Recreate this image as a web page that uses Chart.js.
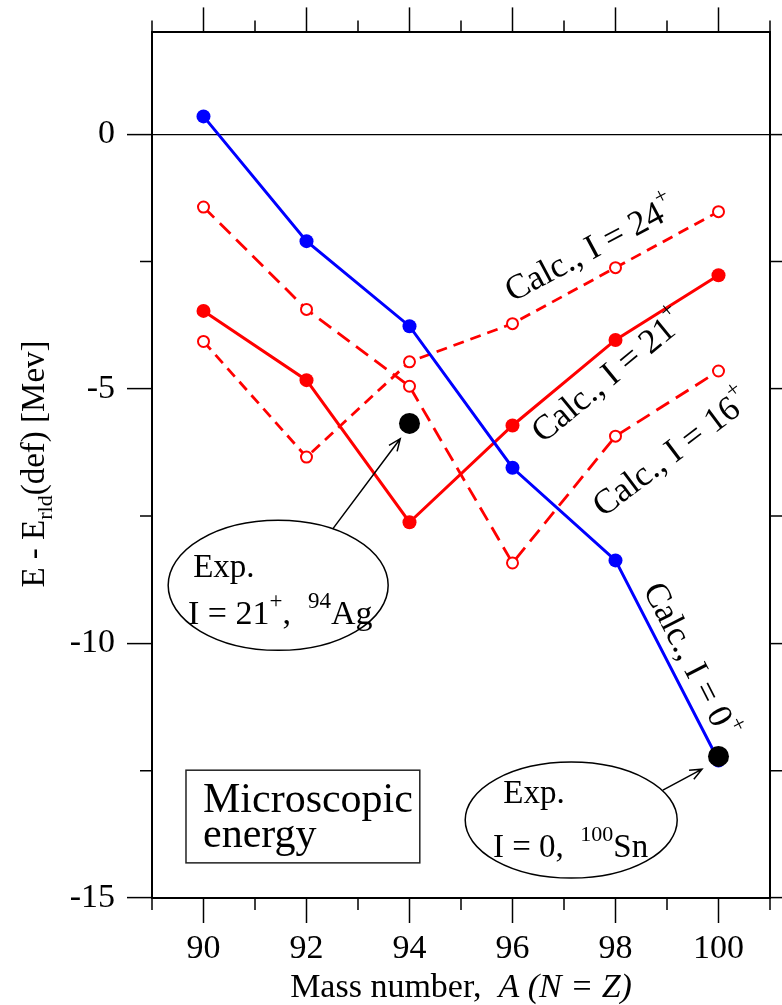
<!DOCTYPE html>
<html>
<head>
<meta charset="utf-8">
<script src="https://cdn.jsdelivr.net/npm/chart.js@4/dist/chart.umd.min.js"></script>
<style>
  html, body { margin: 0; padding: 0; background: #fff; }
  canvas { display: block; }
</style>
</head>
<body>
<canvas id="chart" width="782" height="1005"></canvas>
<script>
// values (MeV)
const massNumbers = [90, 92, 94, 96, 98, 100]
const calcI0 = [0.35, -2.1, -3.77, -6.55, -8.37, -12.3]
const calcI21 = [-3.47, -4.83, -7.62, -5.72, -4.04, -2.77]
const calcI16 = [-1.43, -3.44, -4.95, -8.42, -5.93, -4.65]
const calcI24 = [-4.07, -6.34, -4.47, -3.72, -2.62, -1.52]
const expMass = [94, 100]
const expEnergy = [-5.68, -12.22]

const xMajorTicks = [90, 92, 94, 96, 98, 100]
const xMinorTicks = [89, 91, 93, 95, 97, 99, 101]
const yMajorTicks = [0, -5, -10, -15]
const yMinorTicks = [-2.5, -7.5, -12.5]

const SERIF = '"Liberation Serif", "Times New Roman", serif'
const pts = (ys) => massNumbers.map((a, i) => ({ x: a, y: ys[i] }))

const fontOf = (r) => `${r.italic ? 'italic ' : ''}${r.size}px ${SERIF}`

// draws a run of text pieces (for super/subscripts) at a baseline origin
function drawRuns(ctx, runs, x, y, angle, centered) {
    ctx.save()
    ctx.translate(x, y)
    ctx.rotate(angle * Math.PI / 180)
    ctx.fillStyle = '#000'
    ctx.textBaseline = 'alphabetic'
    ctx.textAlign = 'left'
    const widths = runs.map(r => { ctx.font = fontOf(r); return ctx.measureText(r.t).width })
    let cx = centered ? -widths.reduce((a, b) => a + b, 0) / 2 : 0
    runs.forEach((r, i) => {
        ctx.font = fontOf(r)
        ctx.fillText(r.t, cx, r.dy || 0)
        cx += widths[i]
    })
    ctx.restore()
}

function arrow(ctx, x1, y1, x2, y2) {
    const a = Math.atan2(y2 - y1, x2 - x1)
    const h = 13
    ctx.save()
    ctx.strokeStyle = '#000'
    ctx.lineWidth = 1.5
    ctx.beginPath()
    ctx.moveTo(x1, y1)
    ctx.lineTo(x2, y2)
    ctx.moveTo(x2 - h * Math.cos(a - 0.4), y2 - h * Math.sin(a - 0.4))
    ctx.lineTo(x2, y2)
    ctx.lineTo(x2 - h * Math.cos(a + 0.4), y2 - h * Math.sin(a + 0.4))
    ctx.stroke()
    ctx.restore()
}

const calcLabel = (n) => [{ t: 'Calc., I = ' + n, size: 35 }, { t: '+', size: 23, dy: -17 }]

const annotations = {
    id: 'annotations',
    afterDraw(chart) {
        const { ctx, chartArea } = chart
        const sx = chart.scales.x, sy = chart.scales.y
        const P = (a, e) => [sx.getPixelForValue(a), sy.getPixelForValue(e)]

        // minor ticks on all four sides
        ctx.save()
        ctx.strokeStyle = '#000'
        ctx.lineWidth = 1.5
        ctx.beginPath()
        xMinorTicks.forEach(v => {
            const px = sx.getPixelForValue(v)
            ctx.moveTo(px, chartArea.bottom); ctx.lineTo(px, chartArea.bottom + 12)
            ctx.moveTo(px, chartArea.top); ctx.lineTo(px, chartArea.top - 12)
        })
        yMinorTicks.forEach(v => {
            const py = sy.getPixelForValue(v)
            ctx.moveTo(chartArea.left - 12, py); ctx.lineTo(chartArea.left, py)
            ctx.moveTo(chartArea.right, py); ctx.lineTo(chartArea.right + 12, py)
        })
        ctx.stroke()
        ctx.restore()

        // curve labels
        let p = P(96.0, -3.3)
        drawRuns(ctx, calcLabel('24'), p[0], p[1], -28)
        p = P(96.59, -6.08)
        drawRuns(ctx, calcLabel('21'), p[0], p[1], -39.5)
        p = P(97.76, -7.53)
        drawRuns(ctx, calcLabel('16'), p[0], p[1], -37)
        p = P(98.53, -8.94)
        drawRuns(ctx, calcLabel('0'), p[0], p[1], 63)

        // experiment bubbles
        ctx.save()
        ctx.strokeStyle = '#000'
        ctx.lineWidth = 1.5
        p = P(91.45, -8.86)
        ctx.beginPath(); ctx.ellipse(p[0], p[1], 110, 65, 0, 0, Math.PI * 2); ctx.stroke()
        p = P(97.14, -13.47)
        ctx.beginPath(); ctx.ellipse(p[0], p[1], 106, 58, 0, 0, Math.PI * 2); ctx.stroke()
        ctx.restore()

        p = P(89.80, -8.69)
        drawRuns(ctx, [{ t: 'Exp.', size: 33 }], p[0], p[1], 0)
        p = P(89.70, -9.61)
        drawRuns(ctx, [
            { t: 'I = 21', size: 34 }, { t: '+', size: 23, dy: -16 },
            { t: ',  ', size: 34 }, { t: '94', size: 23, dy: -16 }, { t: 'Ag', size: 34 }
        ], p[0], p[1], 0)
        let a = P(92.51, -7.75), b = P(93.82, -5.98)
        arrow(ctx, a[0], a[1], b[0], b[1])

        p = P(95.82, -13.14)
        drawRuns(ctx, [{ t: 'Exp.', size: 33 }], p[0], p[1], 0)
        p = P(95.62, -14.20)
        drawRuns(ctx, [
            { t: 'I = 0,  ', size: 33 }, { t: '100', size: 22, dy: -16 }, { t: 'Sn', size: 33 }
        ], p[0], p[1], 0)
        a = P(98.92, -12.88); b = P(99.68, -12.47)
        arrow(ctx, a[0], a[1], b[0], b[1])

        // "Microscopic energy" box
        a = P(89.66, -12.49); b = P(94.20, -14.31)
        ctx.save()
        ctx.strokeStyle = '#222'
        ctx.lineWidth = 1.5
        ctx.strokeRect(a[0], a[1], b[0] - a[0], b[1] - a[1])
        ctx.restore()
        p = P(89.99, -13.31)
        drawRuns(ctx, [{ t: 'Microscopic', size: 42 }], p[0], p[1], 0)
        p = P(89.99, -14.0)
        drawRuns(ctx, [{ t: 'energy', size: 42 }], p[0], p[1], 0)

        // axis titles
        drawRuns(ctx, [
            { t: 'Mass number,  ', size: 34 }, { t: 'A (N = Z)', size: 34, italic: true }
        ], (chartArea.left + chartArea.right) / 2, 997, 0, true)
        drawRuns(ctx, [
            { t: 'E - E', size: 33 }, { t: 'rld', size: 22, dy: 8 }, { t: '(def) [Mev]', size: 33 }
        ], 44, 464, -90, true)
    }
}

const tickSet = (vals) => (scale) => { scale.ticks = vals.map(v => ({ value: v })) }
const majorColor = (vals) => (c) => (c.tick && vals.includes(c.tick.value)) ? '#000' : 'rgba(0,0,0,0)'

const xAxisBase = {
    type: 'linear', min: 89, max: 101,
    border: { display: true, color: '#000', width: 2 },
    grid: { drawOnChartArea: false, drawTicks: true, tickLength: 25, tickWidth: 1.5, tickColor: majorColor(xMajorTicks) }
}
const yAxisBase = {
    type: 'linear', min: -15, max: 2,
    border: { display: true, color: '#000', width: 2 },
    grid: {
        drawOnChartArea: true, drawTicks: true, tickLength: 25, tickWidth: 1.5,
        tickColor: majorColor(yMajorTicks),
        color: (c) => (c.tick && c.tick.value === 0) ? '#000' : 'rgba(0,0,0,0)',
        lineWidth: 1.2
    }
}

new Chart(document.getElementById('chart'), {
    type: 'scatter',
    data: {
        datasets: [
            {
                label: 'Exp.',
                data: expMass.map((a, i) => ({ x: a, y: expEnergy[i] })),
                showLine: false,
                pointRadius: 10.5,
                pointBackgroundColor: '#000',
                pointBorderColor: '#000',
                pointBorderWidth: 0
            },
            {
                label: 'Calc., I = 0+',
                data: pts(calcI0),
                showLine: true,
                borderColor: '#0000ff',
                borderWidth: 3,
                pointRadius: 7,
                pointBackgroundColor: '#0000ff',
                pointBorderWidth: 0
            },
            {
                label: 'Calc., I = 21+',
                data: pts(calcI21),
                showLine: true,
                borderColor: '#ff0000',
                borderWidth: 3,
                pointRadius: 7,
                pointBackgroundColor: '#ff0000',
                pointBorderWidth: 0
            },
            {
                label: 'Calc., I = 16+',
                data: pts(calcI16),
                showLine: true,
                borderColor: '#ff0000',
                borderWidth: 2.8,
                borderDash: [15, 8],
                pointRadius: 5.5,
                pointBackgroundColor: '#ffffff',
                pointBorderColor: '#ff0000',
                pointBorderWidth: 2
            },
            {
                label: 'Calc., I = 24+',
                data: pts(calcI24),
                showLine: true,
                borderColor: '#ff0000',
                borderWidth: 2.8,
                borderDash: [11, 7],
                pointRadius: 5.5,
                pointBackgroundColor: '#ffffff',
                pointBorderColor: '#ff0000',
                pointBorderWidth: 2
            }
        ]
    },
    options: {
        responsive: false,
        animation: false,
        layout: { padding: 0 },
        plugins: { legend: { display: false }, tooltip: { enabled: false } },
        scales: {
            x: {
                ...xAxisBase,
                position: 'bottom',
                afterBuildTicks: tickSet([...xMajorTicks, ...xMinorTicks].sort((a, b) => a - b)),
                afterFit: (s) => { s.height = 107 },
                ticks: {
                    autoSkip: false, maxRotation: 0, color: '#000', padding: 6,
                    font: { family: SERIF, size: 34 },
                    callback: (v) => xMajorTicks.includes(v) ? String(v) : ''
                }
            },
            xTop: {
                ...xAxisBase,
                position: 'top',
                afterBuildTicks: tickSet(xMajorTicks),
                afterFit: (s) => { s.height = 31 },
                ticks: { display: true, callback: () => '', font: { size: 1 } }
            },
            y: {
                ...yAxisBase,
                position: 'left',
                afterBuildTicks: tickSet([...yMajorTicks, ...yMinorTicks]),
                afterFit: (s) => { s.width = 152 },
                ticks: {
                    color: '#000', padding: 12,
                    font: { family: SERIF, size: 34 },
                    callback: (v) => yMajorTicks.includes(v) ? String(v) : ''
                }
            },
            yRight: {
                ...yAxisBase,
                position: 'right',
                grid: { ...yAxisBase.grid, drawOnChartArea: false },
                afterBuildTicks: tickSet(yMajorTicks),
                afterFit: (s) => { s.width = 12 },
                ticks: { display: true, callback: () => '', font: { size: 1 } }
            }
        }
    },
    plugins: [annotations]
})
</script>
</body>
</html>
